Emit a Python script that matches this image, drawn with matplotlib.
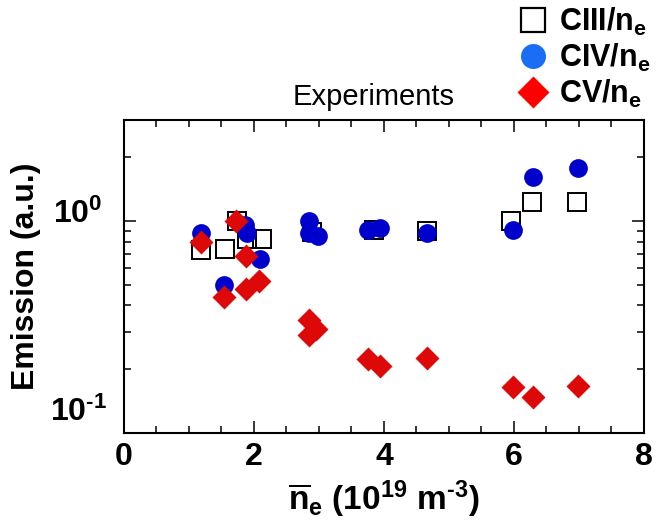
import numpy as np
import matplotlib
matplotlib.use('Agg')
import matplotlib.pyplot as plt
from matplotlib.lines import Line2D
from matplotlib.ticker import LogLocator, NullFormatter, MultipleLocator
from matplotlib.transforms import ScaledTranslation

plt.rcParams['font.family'] = ['Liberation Sans', 'DejaVu Sans']
plt.rcParams['mathtext.fontset'] = 'custom'
plt.rcParams['mathtext.rm'] = 'Liberation Sans:bold'
plt.rcParams['mathtext.bf'] = 'Liberation Sans:bold'
plt.rcParams['mathtext.default'] = 'bf'

# ── Data (line-averaged density in 1e19 m^-3, emission in a.u.) ──
ciii_ne  = [1.18, 1.55, 1.74, 1.90, 2.13, 2.90, 3.85, 4.67, 5.96, 6.28, 6.97]
ciii_em  = [0.73, 0.74, 1.00, 0.82, 0.82, 0.89, 0.91, 0.90, 1.00, 1.23, 1.23]

civ_ne   = [1.18, 1.54, 1.86, 1.90, 2.09, 2.85, 2.85, 2.99, 3.76, 3.94, 4.67, 5.98, 6.29, 6.98]
civ_em   = [0.88, 0.50, 0.96, 0.88, 0.66, 1.00, 0.88, 0.85, 0.91, 0.93, 0.88, 0.91, 1.62, 1.78]

cv_ne    = [1.18, 1.73, 1.88, 1.54, 1.88, 2.08, 2.85, 2.96, 2.85, 3.76, 3.94, 4.67, 5.98, 6.29, 6.98]
cv_em    = [0.80, 1.00, 0.68, 0.44, 0.48, 0.52, 0.34, 0.31, 0.29, 0.223, 0.207, 0.225, 0.164, 0.147, 0.166]

BLUE = '#0000cc'
RED = '#dd0808'

fig = plt.figure(figsize=(6.57, 5.32), dpi=100)
ax = fig.add_axes([0.1887, 0.1866, 0.7913, 0.5878])

ax.plot(ciii_ne, ciii_em, 's', ms=13, mfc='none', mec='black', mew=1.4, zorder=3)
ax.plot(civ_ne, civ_em, 'o', ms=13.5, color=BLUE, mec='none', zorder=4)
ax.plot(cv_ne, cv_em, 'D', ms=12, color=RED, mec='none', zorder=5)

ax.set_yscale('log')
ax.set_xlim(0, 8)
ax.set_ylim(0.1, 3.0)

ax.xaxis.set_major_locator(MultipleLocator(2))
ax.xaxis.set_minor_locator(MultipleLocator(0.5))
ax.set_yticks([0.1, 1.0])
ax.set_yticklabels([r'$10^{\text{-}1}$', r'$10^{0}$'])
ax.yaxis.set_minor_locator(LogLocator(base=10, subs=np.arange(2, 10)))
ax.yaxis.set_minor_formatter(NullFormatter())

ax.tick_params(which='both', direction='in', top=True, right=True, width=1.1)
ax.tick_params(which='major', length=8.5)
ax.tick_params(which='minor', length=5)
ax.tick_params(axis='x', labelsize=23, pad=7)
ax.tick_params(axis='y', labelsize=23, pad=33)
for lbl in ax.get_xticklabels():
    lbl.set_fontweight('bold')
for lbl, dy in zip(ax.get_yticklabels(), [24, 10]):
    lbl.set_horizontalalignment('center')
    lbl.set_transform(lbl.get_transform() + ScaledTranslation(0, dy / 100, fig.dpi_scale_trans))
for sp in ax.spines.values():
    sp.set_linewidth(1.5)

ax.set_xlabel(r'$\overline{n}_e$ (10$^{19}$ m$^{\text{-}3}$)', fontsize=24, fontweight='bold', labelpad=4)
ax.set_ylabel('Emission (a.u.)', fontsize=23, fontweight='bold')
ax.yaxis.set_label_coords(-0.16, 0.5)

fig.text(0.568, 0.818, 'Experiments', fontsize=21, ha='center', va='center')

handles = [
    Line2D([], [], ls='none', marker='s', ms=17, mfc='none', mec='black', mew=1.6),
    Line2D([], [], ls='none', marker='o', ms=18, color='#1a6ef5', mec='none'),
    Line2D([], [], ls='none', marker='D', ms=16, color='#ff0000', mec='none'),
]
labels = [r'CIII/n$_e$', r'CIV/n$_e$', r'CV/n$_e$']
fig.legend(handles, labels, loc='upper right', bbox_to_anchor=(1.0, 1.0),
           frameon=False, prop={'size': 22, 'weight': 'bold'},
           handlelength=1.0, handletextpad=0.35, labelspacing=0.12,
           borderaxespad=0.1, borderpad=0.1)

fig.savefig('out.png', dpi=100)
